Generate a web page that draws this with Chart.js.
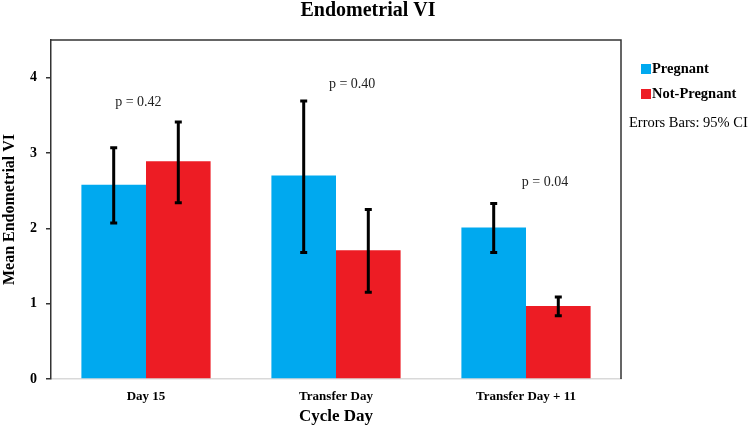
<!DOCTYPE html>
<html>
<head>
<meta charset="utf-8">
<script src="https://cdn.jsdelivr.net/npm/chart.js@4.4.1/dist/chart.umd.min.js"></script>
<style>
  html, body { margin: 0; padding: 0; background: #fff; }
</style>
</head>
<body>
<canvas id="viChart" width="749" height="427"></canvas>
<script>
// values
const cycleDays = ['Day 15', 'Transfer Day', 'Transfer Day + 11'];
const pregnant = [2.58, 2.70, 2.01];
const pregnantLow = [2.07, 1.68, 1.68];
const pregnantHigh = [3.07, 3.69, 2.33];
const notPregnant = [2.89, 1.71, 0.97];
const notPregnantLow = [2.34, 1.15, 0.84];
const notPregnantHigh = [3.41, 2.25, 1.09];
const pLabels = ['p = 0.42', 'p = 0.40', 'p = 0.04'];
const pLevels = [3.67, 3.91, 2.61];
const yTicks = [0, 1, 2, 3, 4];

const BLUE = '#00A9EF';
const RED = '#ED1C24';
const SERIF = '"Liberation Serif", "Times New Roman", serif';

const errorBars = {
  id: 'errorBars',
  afterDatasetsDraw(chart) {
    const ctx = chart.ctx;
    const y = chart.scales.y;
    const ranges = [[pregnantLow, pregnantHigh], [notPregnantLow, notPregnantHigh]];
    ctx.save();
    ctx.strokeStyle = '#000';
    ctx.lineWidth = 3;
    ranges.forEach((r, di) => {
      chart.getDatasetMeta(di).data.forEach((bar, i) => {
        const top = y.getPixelForValue(r[1][i]);
        const bot = y.getPixelForValue(r[0][i]);
        ctx.beginPath();
        ctx.moveTo(bar.x, top); ctx.lineTo(bar.x, bot);
        ctx.moveTo(bar.x - 3.5, top); ctx.lineTo(bar.x + 3.5, top);
        ctx.moveTo(bar.x - 3.5, bot); ctx.lineTo(bar.x + 3.5, bot);
        ctx.stroke();
      });
    });
    ctx.restore();
  }
};

const extras = {
  id: 'extras',
  afterDraw(chart) {
    const ctx = chart.ctx;
    const a = chart.chartArea;
    const x = chart.scales.x, y = chart.scales.y;
    ctx.save();
    // frame around plot
    ctx.strokeStyle = '#333';
    ctx.lineWidth = 1.5;
    ctx.beginPath();
    ctx.moveTo(a.left, a.top); ctx.lineTo(a.right, a.top); ctx.lineTo(a.right, a.bottom);
    ctx.stroke();

    // title
    ctx.fillStyle = '#000';
    ctx.textAlign = 'center';
    ctx.textBaseline = 'alphabetic';
    ctx.font = 'bold 20px ' + SERIF;
    ctx.fillText('Endometrial VI', 368, 16);

    // p values
    const shift = [-0.04, 0.085, 0.1];
    ctx.textBaseline = 'middle';
    ctx.font = '14px ' + SERIF;
    ctx.fillStyle = '#222';
    pLabels.forEach((t, i) => {
      ctx.fillText(t, x.getPixelForValue(i + shift[i]), y.getPixelForValue(pLevels[i]));
    });

    // legend
    ctx.textAlign = 'left';
    ctx.font = 'bold 14.5px ' + SERIF;
    [[BLUE, 'Pregnant', 69], [RED, 'Not-Pregnant', 94]].forEach(([c, t, ty]) => {
      ctx.fillStyle = c;
      ctx.fillRect(641, ty - 5, 10, 10);
      ctx.fillStyle = '#000';
      ctx.fillText(t, 652, ty);
    });
    ctx.font = '14.5px ' + SERIF;
    ctx.fillText('Errors Bars: 95% CI', 629, 123);
    ctx.restore();
  }
};

new Chart(document.getElementById('viChart'), {
  type: 'bar',
  data: {
    labels: cycleDays,
    datasets: [
      { label: 'Pregnant', data: pregnant, backgroundColor: BLUE, borderWidth: 0 },
      { label: 'Not-Pregnant', data: notPregnant, backgroundColor: RED, borderWidth: 0 }
    ]
  },
  options: {
    responsive: false,
    animation: false,
    categoryPercentage: 0.68,
    barPercentage: 1,
    layout: { padding: { top: 40, right: 128, left: 0, bottom: 0 } },
    plugins: { legend: { display: false }, tooltip: { enabled: false } },
    scales: {
      x: {
        grid: { display: false },
        border: { color: '#d9d9d9', width: 1.5 },
        ticks: { color: '#000', font: { family: SERIF, size: 13, weight: 'bold' }, padding: 2 },
        title: { display: true, text: 'Cycle Day', color: '#000', font: { family: SERIF, size: 17, weight: 'bold' }, padding: 0 },
        afterFit(s) { s.height = 48; }
      },
      y: {
        min: 0, max: 4.5,
        afterBuildTicks(s) { s.ticks = yTicks.map(v => ({ value: v })); },
        grid: { drawOnChartArea: false, drawTicks: true, tickLength: 5, color: '#333', lineWidth: 1.5 },
        border: { color: '#333', width: 1.5 },
        ticks: { color: '#000', font: { family: SERIF, size: 14, weight: 'bold' }, padding: 9 },
        title: { display: true, text: 'Mean Endometrial VI', color: '#000', font: { family: SERIF, size: 16, weight: 'bold' }, padding: 0 },
        afterFit(s) { s.width = 51; }
      }
    }
  },
  plugins: [errorBars, extras]
});
</script>
</body>
</html>
